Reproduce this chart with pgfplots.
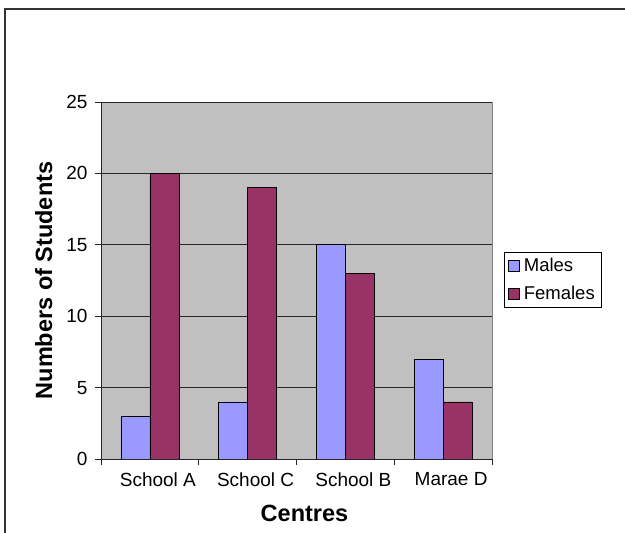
\documentclass[border=0pt]{standalone}
\usepackage{fontspec}
\setmainfont{Liberation Sans}
\usepackage{pgfplots}
\pgfplotsset{compat=1.18}

\definecolor{plotbg}{HTML}{C0C0C0}
\definecolor{males}{HTML}{9999FF}
\definecolor{females}{HTML}{993366}
\definecolor{frame}{HTML}{808080}

\newcommand{\txt}{\fontsize{19}{22}\selectfont}
\newcommand{\lgd}{\fontsize{18.5}{21}\selectfont}
\newcommand{\ttl}{\fontsize{23.5}{27}\selectfont\bfseries}

\begin{document}
\begin{tikzpicture}[x=1pt,y=1pt]
\useasboundingbox (0,0) rectangle (625,533);
% outer chart frame
\draw[line width=1.4pt, black!80] (5,0) -- (5,524) -- (625,524);
\begin{axis}[
  at={(101pt,74pt)}, anchor=south west,
  scale only axis, width=391pt, height=357pt,
  xmin=-0.5, xmax=3.5, ymin=0, ymax=25,
  ybar=0pt, bar width=29pt,
  axis background/.style={fill=plotbg, draw=frame, line width=0.8pt},
  axis lines*=left,
  axis line style={black!85, line width=0.8pt},
  ytick={0,5,...,25},
  ymajorgrids, grid style={black!85, line width=0.8pt},
  xtick={-0.5,0.5,1.5,2.5,3.5},
  xticklabels={},
  extra x ticks={0,1,2,3},
  extra x tick labels={School A,School C,School B,Marae D},
  extra x tick style={major tick length=0pt, grid=none,
    xticklabel style={yshift=-10pt, xshift=8pt}},
  tick align=outside, major tick length=6pt,
  tick style={black!85, line width=0.8pt},
  /pgf/number format/assume math mode=true,
  ticklabel style={font=\txt},
  yticklabel style={xshift=-4pt},
  xlabel={Centres}, xlabel style={font=\ttl, yshift=-6pt, xshift=8pt},
  ylabel={Numbers of Students}, ylabel style={font=\ttl, yshift=7pt},
  legend style={at={(1.0307,0.5798)}, anchor=north west,
    draw=black, line width=0.6pt, font=\lgd, inner xsep=4pt, inner ysep=4pt,
    row sep=9pt, legend cell align=left,
    nodes={inner xsep=3pt}},
  legend image code/.code={%
    \draw[#1, draw=black, line width=0.5pt] (0pt,-5.5pt) rectangle (11pt,5.5pt);
    \path (12pt,0pt);},
]
\addplot[fill=males, draw=black, line width=0.6pt] coordinates {(0,3) (1,4) (2,15) (3,7)};
\addplot[fill=females, draw=black, line width=0.6pt] coordinates {(0,20) (1,19) (2,13) (3,4)};
\legend{Males,Females}
\end{axis}
\end{tikzpicture}
\end{document}
